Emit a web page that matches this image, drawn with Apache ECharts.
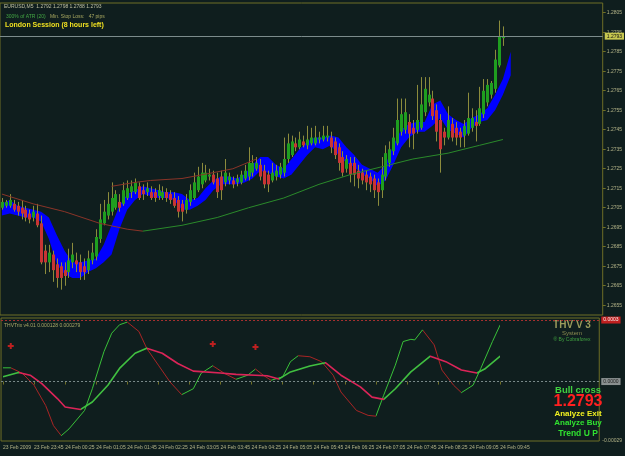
<!DOCTYPE html>
<html>
<head>
<meta charset="utf-8">
<script src="https://cdn.jsdelivr.net/npm/echarts@6/dist/echarts.min.js"></script>
<style>
html, body { margin: 0; padding: 0; background: #0f1e1e; }
#chart { width: 625px; height: 456px; }
</style>
</head>
<body>
<div id="chart"></div>
<script>
// EURUSD M5 bars, 23 Feb 23:05 .. 24 Feb 09:45 (index 0..128)
const opens = [
  1.2705, 1.2706, 1.2706, 1.2707, 1.2706, 1.2705, 1.2704, 1.2702, 1.2700, 1.2702,
  1.2697, 1.2683, 1.2677, 1.2681, 1.2676, 1.2675, 1.2673, 1.2672, 1.2677, 1.2678,
  1.2677, 1.2675, 1.2673, 1.2678, 1.2680, 1.2689, 1.2697, 1.2701, 1.2703, 1.2705,
  1.2708, 1.2707, 1.2710, 1.2713, 1.2713, 1.2716, 1.2714, 1.2713, 1.2713, 1.2713,
  1.2711, 1.2710, 1.2713, 1.2712, 1.2710, 1.2709, 1.2707, 1.2704, 1.2708, 1.2710,
  1.2714, 1.2717, 1.2719, 1.2721, 1.2722, 1.2720, 1.2721, 1.2718, 1.2719, 1.2719,
  1.2718, 1.2718, 1.2720, 1.2721, 1.2723, 1.2725, 1.2727, 1.2724, 1.2722, 1.2719,
  1.2721, 1.2722, 1.2723, 1.2730, 1.2732, 1.2738, 1.2736, 1.2739, 1.2737, 1.2738,
  1.2738, 1.2740, 1.2740, 1.2741, 1.2741, 1.2739, 1.2736, 1.2731, 1.2725, 1.2728,
  1.2728, 1.2724, 1.2723, 1.2722, 1.2721, 1.2720, 1.2718, 1.2714, 1.2721, 1.2728,
  1.2734, 1.2738, 1.2744, 1.2745, 1.2749, 1.2746, 1.2745, 1.2746, 1.2754, 1.2759,
  1.2761, 1.2755, 1.2750, 1.2744, 1.2741, 1.2748, 1.2746, 1.2744, 1.2742, 1.2743,
  1.2746, 1.2749, 1.2748, 1.2753, 1.2759, 1.2763, 1.2766, 1.2778, 1.2792
];
const closes = [
  1.2708, 1.2708, 1.2709, 1.2704, 1.2703, 1.2702, 1.2700, 1.2699, 1.2703, 1.2696,
  1.2677, 1.2677, 1.2682, 1.2673, 1.2669, 1.2669, 1.2670, 1.2678, 1.2681, 1.2676,
  1.2672, 1.2672, 1.2679, 1.2682, 1.2690, 1.2699, 1.2703, 1.2707, 1.2710, 1.2712,
  1.2705, 1.2714, 1.2715, 1.2716, 1.2718, 1.2710, 1.2712, 1.2715, 1.2710, 1.2710,
  1.2714, 1.2713, 1.2710, 1.2709, 1.2706, 1.2703, 1.2703, 1.2709, 1.2714, 1.2718,
  1.2721, 1.2723, 1.2723, 1.2722, 1.2718, 1.2713, 1.2714, 1.2723, 1.2721, 1.2717,
  1.2720, 1.2722, 1.2724, 1.2728, 1.2728, 1.2728, 1.2721, 1.2717, 1.2717, 1.2723,
  1.2724, 1.2726, 1.2730, 1.2738, 1.2739, 1.2736, 1.2740, 1.2737, 1.2740, 1.2741,
  1.2741, 1.2741, 1.2742, 1.2742, 1.2736, 1.2732, 1.2728, 1.2723, 1.2730, 1.2722,
  1.2722, 1.2720, 1.2719, 1.2718, 1.2717, 1.2714, 1.2713, 1.2722, 1.2733, 1.2735,
  1.2741, 1.2750, 1.2753, 1.2754, 1.2743, 1.2743, 1.2750, 1.2758, 1.2766, 1.2763,
  1.2752, 1.2744, 1.2735, 1.2741, 1.2750, 1.2741, 1.2741, 1.2741, 1.2747, 1.2751,
  1.2751, 1.2747, 1.2756, 1.2765, 1.2768, 1.2769, 1.2781, 1.2793, 1.2793
];
const lows = [
  1.2704, 1.2705, 1.2705, 1.2703, 1.2701, 1.2699, 1.2698, 1.2697, 1.2698, 1.2695,
  1.2676, 1.2671, 1.2672, 1.2667, 1.2664, 1.2663, 1.2665, 1.2669, 1.2674, 1.2672,
  1.2668, 1.2668, 1.2671, 1.2676, 1.2678, 1.2687, 1.2696, 1.2699, 1.2701, 1.2704,
  1.2703, 1.2706, 1.2709, 1.2710, 1.2712, 1.2709, 1.2709, 1.2711, 1.2709, 1.2708,
  1.2709, 1.2709, 1.2708, 1.2707, 1.2705, 1.2700, 1.2698, 1.2702, 1.2706, 1.2709,
  1.2713, 1.2715, 1.2718, 1.2719, 1.2717, 1.2710, 1.2709, 1.2716, 1.2717, 1.2715,
  1.2716, 1.2717, 1.2719, 1.2719, 1.2721, 1.2724, 1.2719, 1.2715, 1.2713, 1.2718,
  1.2719, 1.2720, 1.2721, 1.2728, 1.2731, 1.2734, 1.2735, 1.2736, 1.2735, 1.2737,
  1.2737, 1.2738, 1.2739, 1.2739, 1.2733, 1.2730, 1.2724, 1.2721, 1.2723, 1.2718,
  1.2716, 1.2715, 1.2717, 1.2714, 1.2713, 1.2710, 1.2706, 1.2710, 1.2719, 1.2726,
  1.2732, 1.2737, 1.2742, 1.2743, 1.2736, 1.2735, 1.2743, 1.2745, 1.2752, 1.2757,
  1.2750, 1.2739, 1.2723, 1.2737, 1.2740, 1.2739, 1.2737, 1.2736, 1.2736, 1.2742,
  1.2744, 1.2739, 1.2747, 1.2751, 1.2757, 1.2761, 1.2764, 1.2777, 1.2788
];
const highs = [
  1.2710, 1.2709, 1.2712, 1.2709, 1.2708, 1.2709, 1.2706, 1.2704, 1.2706, 1.2707,
  1.2701, 1.2686, 1.2686, 1.2683, 1.2679, 1.2677, 1.2677, 1.2684, 1.2687, 1.2682,
  1.2681, 1.2679, 1.2683, 1.2687, 1.2694, 1.2707, 1.2709, 1.2713, 1.2718, 1.2714,
  1.2712, 1.2718, 1.2719, 1.2719, 1.2720, 1.2718, 1.2717, 1.2718, 1.2716, 1.2715,
  1.2717, 1.2716, 1.2715, 1.2714, 1.2713, 1.2711, 1.2709, 1.2712, 1.2717, 1.2723,
  1.2726, 1.2728, 1.2727, 1.2725, 1.2724, 1.2723, 1.2724, 1.2730, 1.2723, 1.2721,
  1.2722, 1.2724, 1.2727, 1.2736, 1.2732, 1.2731, 1.2730, 1.2727, 1.2724, 1.2728,
  1.2727, 1.2728, 1.2741, 1.2743, 1.2742, 1.2741, 1.2744, 1.2742, 1.2747, 1.2746,
  1.2747, 1.2744, 1.2747, 1.2747, 1.2744, 1.2741, 1.2738, 1.2734, 1.2732, 1.2731,
  1.2731, 1.2727, 1.2725, 1.2724, 1.2723, 1.2722, 1.2720, 1.2731, 1.2737, 1.2739,
  1.2746, 1.2761, 1.2761, 1.2761, 1.2753, 1.2750, 1.2768, 1.2772, 1.2772, 1.2772,
  1.2765, 1.2758, 1.2753, 1.2746, 1.2757, 1.2751, 1.2749, 1.2746, 1.2750, 1.2764,
  1.2756, 1.2755, 1.2767, 1.2771, 1.2771, 1.2770, 1.2786, 1.2801, 1.2798
];

// blue channel (shifted forward), sampled every 2 bars
const bandIdx = [0, 2, 4, 6, 8, 10, 12, 14, 16, 18, 20, 22, 24, 26, 28, 30, 32, 34, 36, 38,
  40, 42, 44, 46, 48, 50, 52, 54, 56, 58, 60, 62, 64, 66, 68, 70, 72, 74, 76, 78,
  80, 82, 84, 86, 88, 90, 92, 94, 96, 98, 100, 102, 104, 106, 108, 110, 112, 114, 116, 118,
  120, 122, 124, 126, 128, 130];
const bandTop = [1.2707, 1.2709, 1.2706, 1.2705, 1.2704, 1.2703, 1.2700, 1.2691, 1.2683, 1.2677,
  1.2677, 1.2678, 1.2679, 1.2686, 1.2696, 1.2706, 1.2712, 1.2714, 1.2716, 1.2715,
  1.2714, 1.2713, 1.2713, 1.2712, 1.2709, 1.2710, 1.2715, 1.2719, 1.2721, 1.2721,
  1.2720, 1.2722, 1.2727, 1.2731, 1.2731, 1.2727, 1.2725, 1.2730, 1.2735, 1.2739,
  1.2741, 1.2741, 1.2742, 1.2741, 1.2736, 1.2732, 1.2727, 1.2725, 1.2723, 1.2727,
  1.2737, 1.2745, 1.2748, 1.2749, 1.2749, 1.2758, 1.2760, 1.2753, 1.2750, 1.2748,
  1.2751, 1.2753, 1.2756, 1.2763, 1.2771, 1.2785];
const bandBot = [1.2701, 1.2702, 1.2701, 1.2700, 1.2700, 1.2698, 1.2689, 1.2676, 1.2671, 1.2669,
  1.2669, 1.2672, 1.2674, 1.2677, 1.2681, 1.2694, 1.2704, 1.2709, 1.2712, 1.2711,
  1.2710, 1.2710, 1.2709, 1.2704, 1.2704, 1.2706, 1.2709, 1.2714, 1.2717, 1.2717,
  1.2717, 1.2718, 1.2720, 1.2724, 1.2723, 1.2721, 1.2720, 1.2722, 1.2727, 1.2732,
  1.2736, 1.2735, 1.2737, 1.2732, 1.2728, 1.2726, 1.2722, 1.2720, 1.2716, 1.2719,
  1.2727, 1.2736, 1.2741, 1.2744, 1.2744, 1.2747, 1.2751, 1.2745, 1.2743, 1.2741,
  1.2746, 1.2749, 1.2750, 1.2755, 1.2763, 1.2773];

// slow moving average: brown while falling, green while rising
const maFalling = [[0, 1.2712], [8, 1.2707], [16, 1.2703], [25, 1.2697], [32, 1.2694], [36, 1.2693]];
const maRising = [[36, 1.2693], [46, 1.2696], [55, 1.2700], [63, 1.2705], [72, 1.2710], [81, 1.2717],
  [89, 1.2722], [97, 1.2726], [105, 1.2730], [114, 1.2733], [122, 1.2737], [128, 1.2740]];
const maShort = [[28, 1.2716], [34, 1.2718], [38, 1.2719], [46, 1.2720], [54, 1.2723], [59, 1.2725], [65, 1.2730]];

const bidPrice = 1.2793;
const priceTicks = [1.2655, 1.2665, 1.2675, 1.2685, 1.2695, 1.2705, 1.2715, 1.2725,
  1.2735, 1.2745, 1.2755, 1.2765, 1.2775, 1.2785, 1.2795, 1.2805];

// THV Trix oscillator
const trixFast = [[0, 0.000067], [2, 0.000067], [5, 0.000040], [8, -0.000018], [11, -0.000117], [13, -0.000215],
  [15, -0.000264], [17, -0.000231], [21, -0.000141], [23, -0.000035], [26, 0.000146], [28, 0.000236],
  [30, 0.000277], [32, 0.000290], [35, 0.000244], [37, 0.000162], [40, 0.000080], [43, -0.000002],
  [46, -0.000064], [49, -0.000035], [51, 0.000040], [54, 0.000077], [57, 0.000040], [60, 0.000011],
  [63, 0.000031], [65, 0.000061], [67, 0.000031], [69, 0.000006], [72, 0.000023], [74, 0.000097],
  [76, 0.000126], [79, 0.000121], [82, 0.000097], [85, 0.000031], [87, -0.000051], [91, -0.000141],
  [94, -0.000165], [96, -0.000169], [98, -0.000067], [101, 0.000080], [103, 0.000195], [105, 0.000206],
  [106, 0.000203], [108, 0.000252], [111, 0.000179], [113, 0.000056], [116, -0.000018], [118, -0.000054],
  [121, -0.000018], [123, 0.000064], [126, 0.000195], [128, 0.000277]];
const trixSlow = [[0, 0.000023], [4, 0.000044], [7, 0.000031], [10, -0.000010], [14, -0.000083], [16, -0.000124],
  [20, -0.000136], [23, -0.000100], [27, -0.000018], [30, 0.000064], [34, 0.000138], [37, 0.000162],
  [41, 0.000138], [45, 0.000088], [49, 0.000051], [52, 0.000047], [56, 0.000042], [60, 0.000035],
  [65, 0.000031], [68, 0.000028], [71, 0.000012], [74, 0.000047], [79, 0.000076], [83, 0.000092],
  [87, 0.000031], [92, -0.000026], [95, -0.000076], [98, -0.000087], [101, -0.000035], [105, 0.000047],
  [110, 0.000124], [114, 0.000097], [118, 0.000056], [122, 0.000042], [124, 0.000061], [128, 0.000124]];
const fastTurns = [0, 2, 15, 32, 46, 54, 60, 65, 69, 76, 96, 108, 118, 128];
const slowTurns = [0, 4, 20, 37, 71, 83, 98, 110, 122, 128];
const signals = [[1.5, 0.000173], [53.6, 0.000183], [64.6, 0.000168]];
const trixLevel = 0.0003;

const tickIdx = [0, 8, 16, 24, 32, 40, 48, 56, 64, 72, 80, 88, 96, 104, 112, 120, 128];
const tickText = ['23 Feb 2009', '23 Feb 23:45', '24 Feb 00:25', '24 Feb 01:05', '24 Feb 01:45',
  '24 Feb 02:25', '24 Feb 03:05', '24 Feb 03:45', '24 Feb 04:25', '24 Feb 05:05', '24 Feb 05:45',
  '24 Feb 06:25', '24 Feb 07:05', '24 Feb 07:45', '24 Feb 08:25', '24 Feb 09:05', '24 Feb 09:45'];

const OLIVE = '#6e6e26';
const AXTEXT = '#b4b488';
const FONT = 'Liberation Sans';

const cats = [];
for (let i = 0; i < 154; i++) cats.push(String(i));

const candleData = opens.map((o, i) => [i, o, closes[i], lows[i], highs[i]]);

function trendPieces(turns, up, down) {
  const p = [];
  for (let k = 0; k < turns.length - 1; k++) {
    const piece = { gte: turns[k], color: k % 2 === 0 ? up : down };
    if (k === turns.length - 2) piece.lte = turns[k + 1]; else piece.lt = turns[k + 1];
    p.push(piece);
  }
  return p;
}

function text(x, y, str, fill, size, bold, align) {
  return {
    type: 'text', x: x, y: y, silent: true,
    style: {
      text: str, fill: fill, fontSize: size, fontFamily: FONT,
      fontWeight: bold ? 'bold' : 'normal', align: align || 'left', verticalAlign: 'top'
    }
  };
}

const chart = echarts.init(document.getElementById('chart'));

const option = {
  backgroundColor: '#0f1e1e',
  animation: false,
  grid: [
    { left: 0, top: 3, width: 603, height: 312, show: true, borderColor: OLIVE, borderWidth: 1, backgroundColor: 'transparent' },
    { left: 0, top: 318, width: 603, height: 123, show: true, borderColor: OLIVE, borderWidth: 1, backgroundColor: 'transparent' }
  ],
  xAxis: [
    { type: 'category', gridIndex: 0, data: cats, show: false },
    {
      type: 'category', gridIndex: 1, data: cats,
      axisLine: { show: false },
      axisTick: {
        show: true, alignWithLabel: true, length: 3,
        interval: (idx) => tickIdx.indexOf(idx) >= 0,
        lineStyle: { color: OLIVE }
      },
      axisLabel: {
        show: true, align: 'left', margin: 4, color: AXTEXT, fontSize: 5, fontFamily: FONT,
        interval: (idx) => tickIdx.indexOf(idx) >= 0,
        formatter: (v, idx) => tickText[tickIdx.indexOf(idx)] || ''
      },
      splitLine: { show: false }
    }
  ],
  yAxis: [
    {
      type: 'value', gridIndex: 0, position: 'right', min: 1.2650, max: 1.2810, scale: true,
      axisLine: { show: false },
      axisTick: { show: true, length: 3, customValues: priceTicks, lineStyle: { color: OLIVE } },
      axisLabel: {
        show: true, margin: 4, color: AXTEXT, fontSize: 5, fontFamily: FONT,
        customValues: priceTicks, formatter: (v) => v.toFixed(4)
      },
      splitLine: { show: false }
    },
    {
      type: 'value', gridIndex: 1, position: 'right', min: -0.00029, max: 0.00031,
      axisLine: { show: false },
      axisTick: { show: false },
      axisLabel: {
        show: true, margin: 3, color: AXTEXT, fontSize: 5, fontFamily: FONT,
        customValues: [-0.00029], formatter: (v) => v.toFixed(5)
      },
      splitLine: { show: false }
    }
  ],
  visualMap: [
    { type: 'piecewise', show: false, seriesIndex: 5, dimension: 0, pieces: trendPieces(fastTurns, '#38c038', '#a82424') },
    { type: 'piecewise', show: false, seriesIndex: 6, dimension: 0, pieces: trendPieces(slowTurns, '#40c040', '#dc2458') }
  ],
  series: [
    {
      type: 'custom', xAxisIndex: 0, yAxisIndex: 0, data: [[0, bandTop[0]]], silent: true,
      renderItem: function (params, api) {
        const pts = [];
        for (let j = 0; j < bandIdx.length; j++) pts.push(api.coord([bandIdx[j], bandTop[j]]));
        for (let j = bandIdx.length - 1; j >= 0; j--) pts.push(api.coord([bandIdx[j], bandBot[j]]));
        return { type: 'polygon', shape: { points: pts }, style: { fill: '#0000ff' } };
      }
    },
    {
      type: 'line', xAxisIndex: 0, yAxisIndex: 0, data: maFalling, showSymbol: false, silent: true,
      lineStyle: { color: '#8a3428', width: 1 }
    },
    {
      type: 'line', xAxisIndex: 0, yAxisIndex: 0, data: maRising, showSymbol: false, silent: true,
      lineStyle: { color: '#2a8a2a', width: 1 },
      markLine: {
        silent: true, symbol: 'none', precision: 4,
        lineStyle: { color: '#7c8c8c', width: 1, type: 'solid' },
        label: {
          show: true, position: 'end', distance: 2, formatter: bidPrice.toFixed(4),
          backgroundColor: '#c8c850', color: '#101010', fontSize: 5, fontFamily: FONT, padding: [1, 2]
        },
        data: [{ yAxis: bidPrice }]
      }
    },
    {
      type: 'line', xAxisIndex: 0, yAxisIndex: 0, data: maShort, showSymbol: false, silent: true,
      lineStyle: { color: '#8a3428', width: 1 }
    },
    {
      type: 'custom', xAxisIndex: 0, yAxisIndex: 0, data: candleData, silent: true,
      encode: { x: 0, y: [1, 2, 3, 4] },
      renderItem: function (params, api) {
        const i = api.value(0);
        const o = api.coord([i, api.value(1)]);
        const c = api.coord([i, api.value(2)]);
        const l = api.coord([i, api.value(3)]);
        const h = api.coord([i, api.value(4)]);
        const x = Math.round(o[0]);
        const up = api.value(2) >= api.value(1);
        const top = Math.min(o[1], c[1]);
        const hgt = Math.max(1, Math.abs(o[1] - c[1]));
        return {
          type: 'group', children: [
            { type: 'line', shape: { x1: x + 0.5, y1: h[1], x2: x + 0.5, y2: l[1] }, style: { stroke: '#8c8c3c', lineWidth: 1 } },
            { type: 'rect', shape: { x: x - 1, y: top, width: 3, height: hgt }, style: { fill: up ? '#1f9e1f' : '#c83434' } }
          ]
        };
      }
    },
    {
      type: 'line', xAxisIndex: 1, yAxisIndex: 1, data: trixFast, showSymbol: false, silent: true,
      lineStyle: { width: 1 }
    },
    {
      type: 'line', xAxisIndex: 1, yAxisIndex: 1, data: trixSlow, showSymbol: false, silent: true,
      lineStyle: { width: 1.6 }
    },
    {
      type: 'scatter', xAxisIndex: 1, yAxisIndex: 1, data: signals, silent: true,
      symbol: 'path://M2,0H4V2H6V4H4V6H2V4H0V2H2Z', symbolSize: 6,
      itemStyle: { color: '#e82020' }
    },
    {
      type: 'line', xAxisIndex: 1, yAxisIndex: 1, data: [], silent: true,
      markLine: {
        silent: true, symbol: 'none', precision: 6,
        data: [
          {
            yAxis: trixLevel,
            lineStyle: { color: '#a83030', width: 1, type: [2, 2] },
            label: { show: true, position: 'end', distance: 2, formatter: '0.0003', backgroundColor: '#c02020', color: '#f0f0f0', fontSize: 5, fontFamily: FONT, padding: [1, 2] }
          },
          {
            yAxis: 0,
            lineStyle: { color: '#7a8a8a', width: 1, type: [2, 2] },
            label: { show: true, position: 'end', distance: 2, formatter: '0.0000', backgroundColor: '#8a9090', color: '#202020', fontSize: 5, fontFamily: FONT, padding: [1, 2] }
          }
        ]
      }
    }
  ],
  graphic: [
    text(4, 4, 'EURUSD,M5  1.2792 1.2798 1.2788 1.2793', '#c0c0a0', 5),
    text(6, 14, '300% of ATR (20)', '#44a844', 5),
    text(50, 14, 'Min. Stop Loss:   47 pips', '#a8a860', 5),
    text(5, 22, 'London Session (8 hours left)', '#f0e020', 7, true),
    text(4, 323, 'THVTrix v4.01 0.000128 0.000279', '#a8a868', 5),
    text(572, 320, 'THV V 3', '#9c9c5c', 10, true, 'center'),
    text(572, 330, 'System', '#8c8c50', 6, false, 'center'),
    text(572, 337, '\u00ae By Cobraforex', '#40a040', 5, false, 'center'),
    text(578, 385, 'Bull cross', '#40d040', 9.5, true, 'center'),
    text(578, 394, '1.2793', '#ff2020', 16, true, 'center'),
    text(578, 410, 'Analyze Exit', '#f0f020', 8, true, 'center'),
    text(578, 419, 'Analyze Buy', '#30e030', 8, true, 'center'),
    text(578, 429, 'Trend U P', '#30e030', 8.5, true, 'center')
  ]
};

chart.setOption(option);
</script>
</body>
</html>
